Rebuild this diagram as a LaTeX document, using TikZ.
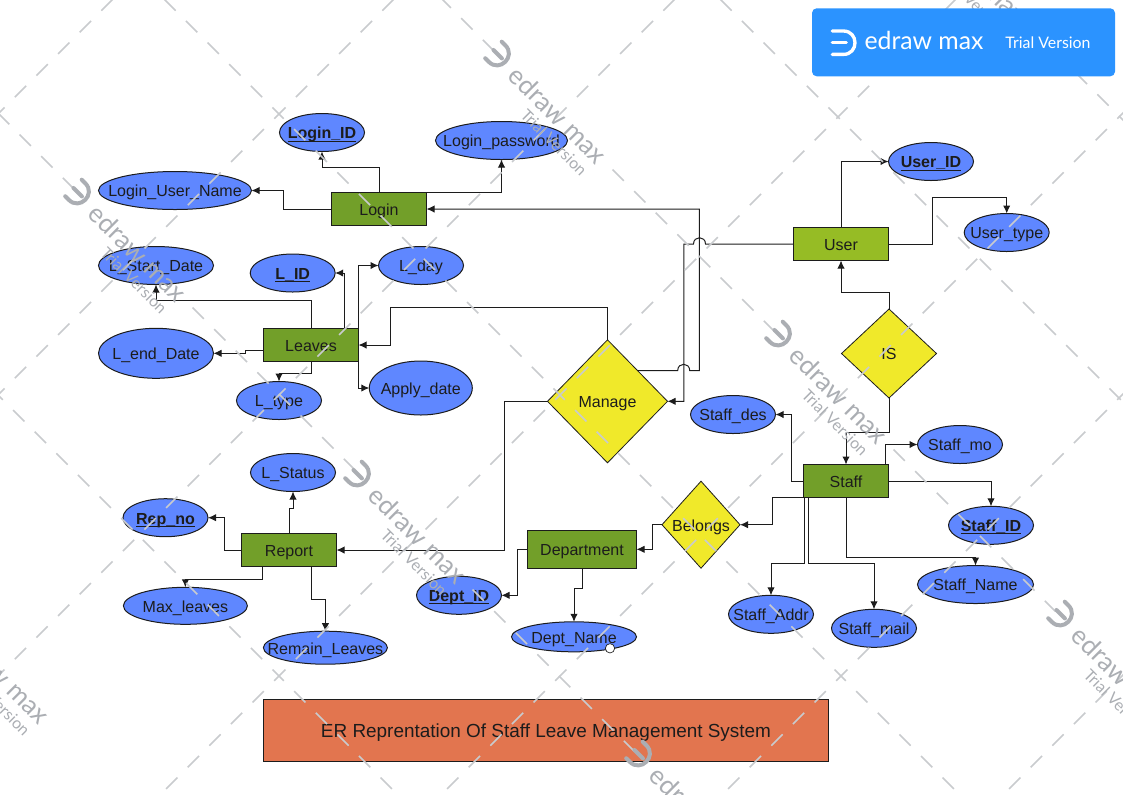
\documentclass[tikz,border=0pt]{standalone}
\usepackage{fontspec}
\setmainfont{Liberation Sans}
\newfontfamily\wmfont{Lato}
\usetikzlibrary{arrows.meta, shapes.geometric}
\definecolor{attrblue}{HTML}{5F87FF}
\definecolor{entgreen}{HTML}{729F29}
\definecolor{usergreen}{HTML}{96BC25}
\definecolor{relyellow}{HTML}{F0E92A}
\definecolor{titleorange}{HTML}{E2754F}
\definecolor{badgeblue}{HTML}{2B93FF}
\definecolor{wmgray}{HTML}{ABAEB3}
\definecolor{wmdashgray}{HTML}{C9CBCE}
\definecolor{inkdark}{HTML}{1C1C1C}
\newcommand{\lbl}[1]{\makebox[0pt]{#1}}
\newcommand{\keylbl}[1]{\makebox[0pt]{\underline{\smash{\textbf{#1}}}}}
\tikzset{
  every node/.style={font=\fontsize{12}{14}\selectfont, text=inkdark, inner sep=0pt, outer sep=0pt},
  entity/.style={rectangle, draw=inkdark, fill=entgreen, line width=0.75pt, text height=9.6pt, text depth=0pt, minimum width=95*0.75pt, minimum height=33*0.75pt},
  attr/.style={ellipse, draw=inkdark, fill=attrblue, line width=0.75pt, text height=9.6pt, text depth=0pt, minimum width=85*0.75pt, minimum height=38*0.75pt},
  rel/.style={diamond, draw=inkdark, fill=relyellow, line width=0.6pt, text height=9.6pt, text depth=0pt},
  conn/.style={draw=inkdark, line width=0.75pt, -{Latex[length=6pt,width=5.5pt]}},
  wmdash/.style={draw=wmdashgray, line width=1.1pt, dash pattern=on 12pt off 10.93pt, dash phase=6pt},
  wmseg/.style={draw=wmdashgray, line width=1.1pt, dash pattern=on 12pt off 10.93pt},
  wmlogo/.pic={
    \draw[line cap=round] (-5,-11.7) -- (0,-11.7) .. controls (15.6,-11.7) and (15.6,11.7) .. (0,11.7) -- (-5,11.7);
    \draw[line cap=round] (-5,0) -- (7,0);
  },
  badgelogo/.pic={
    \draw[line cap=round] (-11,-11.7) -- (0,-11.7) .. controls (15.6,-11.7) and (15.6,11.7) .. (0,11.7) -- (-11,11.7);
    \draw[line cap=round] (-11,0) -- (3,0);
  }
}
\begin{document}
\begin{tikzpicture}[x=0.75pt,y=-0.75pt]
  \useasboundingbox (0,0) rectangle (1123,794);
  \clip (0,0) rectangle (1123,794);

  \node[entity] (login) at (379,209) {Login};
  \node[attr] (loginid) at (322,132.5) {\keylbl{Login\_ID}};
  \node[attr, minimum width=132*0.75pt] (loginpw) at (501.5,140.5) {\lbl{Login\_password}};
  \node[attr, minimum width=153*0.75pt] (loginuser) at (175,190.5) {\lbl{Login\_User\_Name}};

  \node[entity] (leaves) at (311,345) {Leaves};
  \node[attr, minimum width=115*0.75pt] (lstart) at (156,265.5) {\lbl{L\_Start\_Date}};
  \node[attr] (lid) at (292.7,273) {\keylbl{L\_ID}};
  \node[attr] (lday) at (421,265.5) {\lbl{L\_day}};
  \node[attr, minimum width=115*0.75pt, minimum height=50*0.75pt] (lend) at (156,353.3) {\lbl{L\_end\_Date}};
  \node[attr, minimum width=103*0.75pt, minimum height=54*0.75pt] (apply) at (420.8,388) {\lbl{Apply\_date}};
  \node[attr] (ltype) at (279,400.5) {\lbl{L\_type}};

  \node[entity, fill=usergreen] (user) at (841,244) {User};
  \node[attr] (userid) at (931,161.5) {\keylbl{User\_ID}};
  \node[attr] (usertype) at (1006.7,232.5) {\lbl{User\_type}};

  \node[rel, minimum width=120*0.75pt, minimum height=123*0.75pt] (manage) at (607.5,401.3) {\lbl{Manage}};
  \node[rel, minimum width=95*0.75pt, minimum height=89*0.75pt] (is) at (889,353.5) {\lbl{IS}};
  \node[rel, minimum width=78*0.75pt, minimum height=87*0.75pt] (belongs) at (701,524.7) {\lbl{Belongs}};

  \node[entity, minimum width=85*0.75pt] (staff) at (846,481) {Staff};
  \node[attr] (staffdes) at (733,414.5) {\lbl{Staff\_des}};
  \node[attr] (staffmo) at (960,444.5) {\lbl{Staff\_mo}};
  \node[attr] (staffid) at (991,525.3) {\keylbl{Staff\_ID}};
  \node[attr, minimum width=116*0.75pt] (staffname) at (975.5,584.5) {\lbl{Staff\_Name}};
  \node[attr] (staffaddr) at (771,614.3) {\lbl{Staff\_Addr}};
  \node[attr] (staffmail) at (874,628.3) {\lbl{Staff\_mail}};

  \node[entity] (report) at (289,550) {Report};
  \node[attr] (lstatus) at (293,472.5) {\lbl{L\_Status}};
  \node[attr] (repno) at (165.5,517.7) {\keylbl{Rep\_no}};
  \node[attr, minimum width=124*0.75pt, minimum height=37*0.75pt] (maxleaves) at (185.4,605.8) {\lbl{Max\_leaves}};
  \node[attr, minimum width=124*0.75pt, minimum height=33*0.75pt] (remain) at (325.4,647.7) {\lbl{Remain\_Leaves}};

  \node[entity, minimum width=109*0.75pt, minimum height=38*0.75pt] (dept) at (582,549.3) {Department};
  \node[attr] (deptid) at (459,595.3) {\keylbl{Dept\_ID}};
  \node[attr, minimum width=125*0.75pt, minimum height=30*0.75pt] (deptname) at (574,636.8) {\lbl{Dept\_Name}};
  \node[circle, draw=inkdark, fill=white, line width=0.5pt, minimum size=7pt] (deptdot) at (610,648.3) {};

  \node[rectangle, draw=inkdark, fill=titleorange, line width=0.6pt, text height=11.2pt, text depth=0pt, minimum width=565*0.75pt, minimum height=62*0.75pt, font=\fontsize{14.2}{16}\selectfont] (title) at (546,730.5) {ER Reprentation Of Staff Leave Management System};

  \draw[conn] (login.west) -- ++(-48,0) |- (loginuser.east);
  \draw[conn] (login.north) -- ++(0,-25) -| (loginid.south);
  \draw[conn] (login.north east) -| (loginpw.south);

  \draw[conn] (leaves.north) -- ++(0,-28) -| (lstart.south);
  \draw[conn] ([xshift=25pt]leaves.north) |- (lid.east);
  \draw[conn] (leaves.north east) |- (lday.west);
  \draw[conn] (leaves.south east) |- (apply.west);
  \draw[conn] ([yshift=-4pt]leaves.west) -- ++(-18.4,0) |- (lend.east);
  \draw[conn] (leaves.south) -- ++(0,11.6) -| (ltype.north);

  \draw[conn] (manage.north) -- ++(0,-32.7) -- ++(-216.8,0) |- (leaves.east);
  \draw[conn] (manage.west) -- ++(-43,0) |- (report.east);
  \draw[conn] (manage.north east) -- ++(40.2,0) .. controls +(0,-8.4) and +(0,-8.4) .. ++(12,0) -- ++(9.7,0) |- (login.east);
  \draw[conn] (user.west) -- ++(-88,0) .. controls +(0,-8.4) and +(0,-8.4) .. ++(-12,0) -- ++(-9.6,0) |- (manage.east);

  \draw[conn] (user.north) |- (userid.west);
  \draw[conn] (user.east) -- ++(43.7,0) -- ++(0,-46.7) -| (usertype.north);
  \draw[conn] (is.north) -- ++(0,-16.7) -| (user.south);
  \draw[conn] (is.south) -- ++(0,34.3) -| (staff.north);

  \draw[conn] (staff.west) -- ++(-12,0) |- (staffdes.east);
  \draw[conn] ([xshift=29.8pt]staff.north) |- (staffmo.west);
  \draw[conn] (staff.east) -| (staffid.north);
  \draw[conn] (staff.south) -- ++(0,60.3) -| (staffname.north);
  \draw[conn] ([xshift=-28pt]staff.south) -- ++(0,66.3) -| (staffmail.north);
  \draw[conn] ([xshift=-31pt]staff.south) -- ++(0,66.3) -| (staffaddr.north);
  \draw[conn] (staff.south west) -- ++(-30.6,0) |- (belongs.east);

  \draw[conn] (belongs.west) -- ++(-9.3,0) |- (dept.east);
  \draw[conn] (dept.west) -- ++(-10,0) |- (deptid.east);
  \draw[conn] (dept.south) -- ++(0,20) -| (deptname.north);

  \draw[conn] (report.north) -- ++(0,-25.3) -| (lstatus.south);
  \draw[conn] (report.west) -- ++(-16.8,0) |- (repno.east);
  \draw[conn] ([xshift=-20pt]report.south) -- ++(0,12.6) -| (maxleaves.north);
  \draw[conn] ([xshift=16.8pt]report.south) -- ++(0,32.6) -| (remain.north);

  % watermark
  \foreach \n in {-1,...,5}
    \draw[wmdash] ({280+281*\n+562},-449) -- ({280+281*\n-1000},1113);
  \foreach \c in {-397,165,721}
    \draw[wmdash] ({\c+113-562},-449) -- ({\c+113+1000},1113);
  \foreach \lx/\ly in {216/-224,-204/-86,917/-83,497/57,778/337,77/195,357/477}
    \draw[wmseg] ({\lx+115.5},{\ly+112.5}) -- ({\lx+277.5},{\ly+274.5});
  \foreach \lx/\ly [count=\i] in {497/57,778/337,1060/617,77/195,357/477,638/757,917/-83,-60/617} {
    \pic[rotate=-45, color=wmgray, line width=3pt] at (\lx,{\ly-3.5}) {wmlogo};
    \node[rotate=-45, text=wmgray, font=\wmfont\fontsize{19.6}{22}\selectfont] (wmname\i) at ({\lx+61},{\ly+58}) {edraw max};
    \node[rotate=-45, text=wmgray, font=\wmfont\fontsize{12}{14}\selectfont] (wmtrial\i) at ({\lx+57},{\ly+85.5}) {Trial Version};
  }

  \node[rectangle, fill=badgeblue, rounded corners=3.5pt, minimum width=303*0.75pt, minimum height=68*0.75pt] (badge) at (963.5,42.3) {};
  \pic[color=white, line width=2.5pt] at (843.3,42.7) {badgelogo};
  \node[text=white, font=\wmfont\fontsize{18.6}{22}\selectfont] (badgename) at (924,40) {edraw max};
  \node[text=white, font=\wmfont\fontsize{11.9}{14}\selectfont] (badgetrial) at (1048,43) {Trial Version};
\end{tikzpicture}
\end{document}
